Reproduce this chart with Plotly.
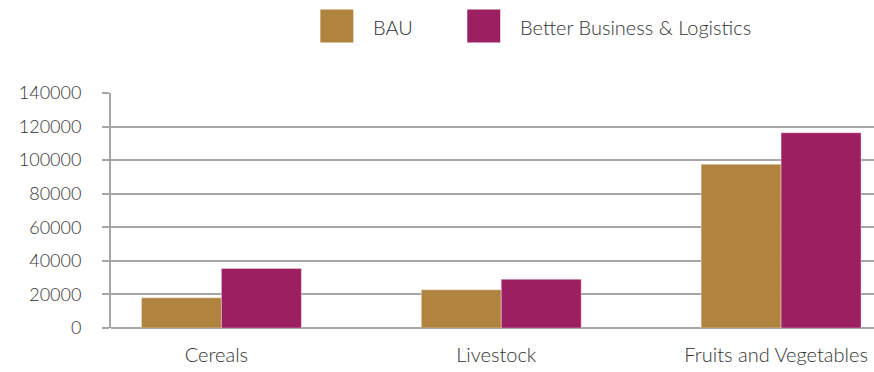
import plotly.graph_objects as go

# Categories and series values
categories = ["Cereals", "Livestock", "Fruits and Vegetables"]
bau = [18000, 22800, 97500]
better = [35500, 29000, 116300]
y_ticks = [0, 20000, 40000, 60000, 80000, 100000, 120000, 140000]

BAU_COLOR = "#B0843F"
BBL_COLOR = "#9C1F62"
GRID = "#A6A6A6"
TEXT = "#333333"
FONT = "Lato"

W, H = 874, 372
ML, MR, MT, MB = 110.5, 0, 92.7, 43.7
PW, PH = W - ML - MR, H - MT - MB

fig = go.Figure()
fig.add_trace(go.Bar(name="BAU", x=categories, y=bau, marker_color=BAU_COLOR,
                     marker_line=dict(color="rgba(255,255,255,0.35)", width=1),
                     showlegend=False))
fig.add_trace(go.Bar(name="Better Business & Logistics", x=categories, y=better,
                     marker_color=BBL_COLOR,
                     marker_line=dict(color="rgba(255,255,255,0.35)", width=1),
                     showlegend=False))


def px_to_paper(px, py):
    return (px - ML) / PW, (H - MB - py) / PH


# Custom legend: large square swatches with labels above the plot
legend_items = [("BAU", BAU_COLOR, 320), ("Better Business & Logistics", BBL_COLOR, 467)]
shapes, annotations = [], []
for label, color, x0 in legend_items:
    ax0, ay0 = px_to_paper(x0, 42)
    ax1, ay1 = px_to_paper(x0 + 33, 9)
    shapes.append(dict(type="rect", xref="paper", yref="paper", x0=ax0, y0=ay0,
                       x1=ax1, y1=ay1, fillcolor=color, line=dict(width=0), layer="above"))
    tx, ty = px_to_paper(x0 + 51, 27)
    annotations.append(dict(xref="paper", yref="paper", x=tx, y=ty, text=label,
                            showarrow=False, xanchor="left", yanchor="middle",
                            font=dict(family=FONT, size=20, color=TEXT, weight=300)))

fig.update_layout(
    width=W, height=H,
    margin=dict(l=ML, r=MR, t=MT, b=MB, pad=0),
    paper_bgcolor="white", plot_bgcolor="white",
    barmode="group", bargap=0.4286, bargroupgap=0,
    shapes=shapes, annotations=annotations,
    font=dict(family=FONT, color=TEXT),
)
fig.update_xaxes(
    type="category", range=[-0.3946, 2.332],
    showgrid=False, showline=False, ticks="", zeroline=False,
    tickfont=dict(family=FONT, size=20, color=TEXT, weight=300),
    ticklabelstandoff=13, ticklabelshift=-5,
)
fig.update_yaxes(
    range=[0, 140000], tickvals=y_ticks, ticktext=[str(v) for v in y_ticks],
    showgrid=True, gridcolor=GRID, gridwidth=1.5,
    showline=True, linecolor=GRID, linewidth=2,
    ticks="outside", ticklen=7, tickcolor=GRID, tickwidth=1.5,
    zeroline=True, zerolinecolor=GRID, zerolinewidth=2,
    tickfont=dict(family=FONT, size=18, color=TEXT, weight=300),
    ticklabelstandoff=17,
)

fig.write_html("out.html")
